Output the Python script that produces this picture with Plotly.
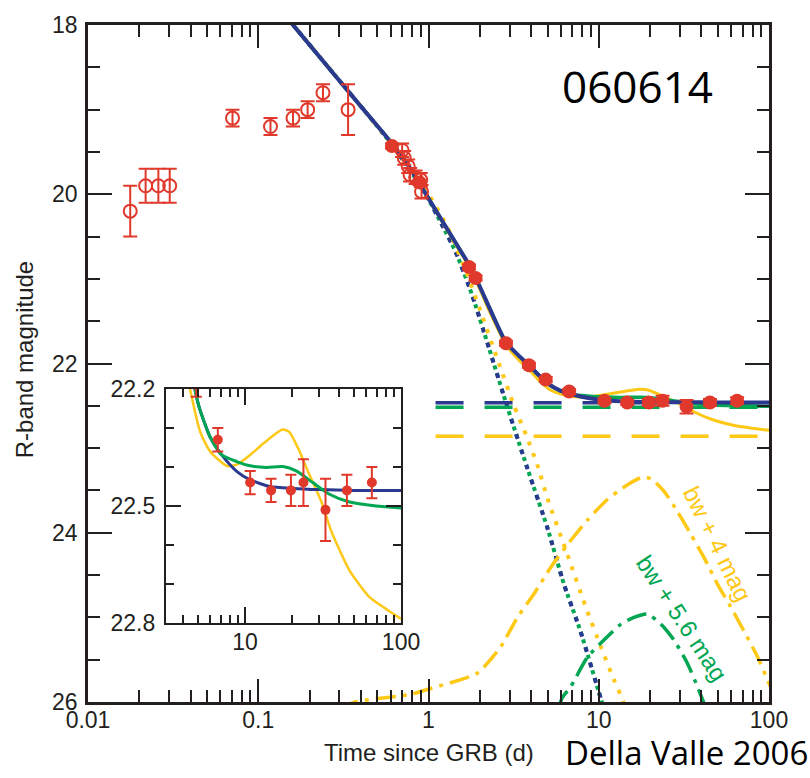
import plotly.graph_objects as go

# ---------------- data ----------------
# early optical points (open circles)
early_t = [0.0177, 0.0218, 0.0259, 0.0302, 0.0706, 0.118, 0.160, 0.195, 0.240, 0.337,
           0.70, 0.72, 0.76, 0.78, 0.84, 0.90, 0.91]
early_mag = [20.20, 19.90, 19.90, 19.90, 19.10, 19.20, 19.10, 19.00, 18.80, 19.00,
             19.48, 19.57, 19.67, 19.77, 19.80, 19.83, 19.97]
early_err = [0.30, 0.20, 0.20, 0.20, 0.10, 0.10, 0.10, 0.10, 0.10, 0.30,
             0.08, 0.08, 0.08, 0.08, 0.08, 0.08, 0.08]

# late points (filled circles)
late_t = [0.61, 0.885, 1.73, 1.89, 2.85, 3.89, 4.88, 6.7, 10.8, 14.7, 19.7, 23.7, 32.8, 45.0, 65.0]
late_mag = [19.43, 19.86, 20.86, 20.99, 21.76, 22.02, 22.19, 22.33, 22.44, 22.46, 22.46,
            22.44, 22.51, 22.46, 22.44]
late_err = [0.03, 0.03, 0.03, 0.03, 0.03, 0.03, 0.03, 0.03, 0.03, 0.03, 0.04, 0.06, 0.08, 0.04, 0.04]

# total model light curves
blue_t = [0.15, 0.16, 0.277, 0.40, 0.571, 0.75, 0.94, 1.2, 1.45, 1.69, 2.0, 2.3, 2.85, 3.4, 3.89,
          4.4, 5.05, 5.98, 7.1, 8.85, 10.8, 14.4, 20.3, 30.0, 50.0, 100.0]
blue_mag = [17.93, 18.00, 18.575, 18.96, 19.33, 19.64, 19.96, 20.31, 20.58, 20.80, 21.09, 21.36,
            21.75, 21.91, 22.02, 22.13, 22.242, 22.323, 22.369, 22.411, 22.433, 22.45, 22.455,
            22.458, 22.46, 22.46]

green_t = [0.15, 0.16, 0.277, 0.40, 0.571, 0.75, 0.94, 1.2, 1.45, 1.69, 2.0, 2.3, 2.85, 3.4, 3.89,
           4.4, 5.05, 5.98, 7.1, 8.85, 10.8, 13.7, 17.5, 21.3, 27.2, 34.8, 46.7, 69.0, 100.0]
green_mag = [17.93, 18.00, 18.575, 18.96, 19.33, 19.64, 19.96, 20.31, 20.58, 20.80, 21.09, 21.36,
             21.75, 21.91, 22.02, 22.13, 22.242, 22.323, 22.369, 22.386, 22.397, 22.401, 22.399,
             22.41, 22.44, 22.47, 22.49, 22.50, 22.505]

yellow_t = [0.15, 0.16, 0.277, 0.40, 0.571, 0.75, 0.94, 1.2, 1.45, 1.69, 2.0, 2.3, 2.85, 3.4, 3.89,
            4.47, 5.17, 5.98, 7.64, 8.85, 10.8, 13.1, 17.4, 19.2, 21.9, 25.9, 30.8, 35.7, 46.7,
            62.5, 76.0, 100.0]
yellow_mag = [17.93, 18.00, 18.575, 18.96, 19.33, 19.64, 19.96, 20.32, 20.60, 20.82, 21.12, 21.40,
              21.78, 21.96, 22.07, 22.204, 22.31, 22.36, 22.397, 22.394, 22.369, 22.34, 22.304,
              22.31, 22.352, 22.42, 22.488, 22.564, 22.665, 22.733, 22.758, 22.79]

# afterglow components
ag_t = [0.15, 0.277, 0.571, 0.80, 1.0, 1.2, 1.45, 1.81, 2.26, 2.91, 3.81, 4.99, 6.25, 7.83, 10.0, 10.5]
ag_mag = [17.93, 18.575, 19.34, 19.75, 20.06, 20.36, 20.69, 21.20, 21.81, 22.52, 23.24, 23.94,
          24.61, 25.17, 25.88, 26.02]

ag_yellow_t = [0.15, 0.277, 0.571, 1.0, 1.3, 1.69, 2.02, 2.54, 3.18, 3.72, 4.36, 4.99, 6.55, 8.4,
               10.3, 12.3, 13.8, 14.2]
ag_yellow_mag = [17.93, 18.575, 19.34, 20.00, 20.40, 20.95, 21.38, 21.95, 22.50, 22.83, 23.20,
                 23.59, 24.26, 24.88, 25.35, 25.74, 25.97, 26.05]

# host galaxy levels
host_t = [1.1, 100.0]
host_blue = [22.463, 22.463]
host_green = [22.518, 22.518]
host_yellow = [22.861, 22.861]

# supernova templates (bw + offset)
sn4_t = [0.30, 0.37, 0.78, 1.03, 1.93, 2.65, 3.33, 4.17, 5.22, 6.55, 8.58, 11.2, 14.7, 17.7, 20.2,
         24.2, 29.0, 34.8, 41.7, 49.9, 59.7, 71.6, 85.8, 100.0, 105.0]
sn4_mag = [26.08, 26.00, 25.91, 25.84, 25.66, 25.35, 25.00, 24.72, 24.41, 24.14, 23.85, 23.61,
           23.435, 23.35, 23.36, 23.51, 23.75, 24.02, 24.30, 24.61, 24.88, 25.17, 25.47, 25.78, 25.88]

sn56_t = [5.8, 6.1, 6.84, 8.58, 10.7, 13.5, 16.1, 19.3, 23.2, 27.7, 33.3, 38.0, 40.7, 42.0]
sn56_mag = [26.08, 25.95, 25.82, 25.47, 25.27, 25.08, 25.00, 24.96, 25.08, 25.27, 25.55, 25.82,
            25.97, 26.05]

x_ticks = [0.01, 0.1, 1, 10, 100]
x_labels = ["0.01", "0.1", "1", "10", "100"]
y_ticks = [18, 20, 22, 24, 26]
inset_x_ticks = [10, 100]
inset_y_ticks = [22.2, 22.5, 22.8]

# ---------------- styling ----------------
RED = "#e0392b"
BLUE = "#2b3990"
GREEN = "#00a651"
YELLOW = "#fdc816"
INK = "#231f20"
FONT = "Liberation Sans, Arial, sans-serif"

fig = go.Figure()


def line(x, y, color, width, dash="solid", xa="x", ya="y"):
    fig.add_trace(go.Scatter(x=x, y=y, mode="lines", xaxis=xa, yaxis=ya,
                             line=dict(color=color, width=width, dash=dash, shape="spline",
                                       smoothing=0.6),
                             hoverinfo="skip", showlegend=False))


# main panel: components
line(ag_t, ag_mag, GREEN, 4, "4px,4px")
line(ag_t, ag_mag, BLUE, 4, "5px,11px")
line(ag_yellow_t, ag_yellow_mag, YELLOW, 4, "4px,8px")
line(sn4_t, sn4_mag, YELLOW, 3.5, "20px,7px,4px,7px")
line(sn56_t, sn56_mag, GREEN, 3.5, "20px,7px,4px,7px")
line(host_t, host_yellow, YELLOW, 3.5, "28px,21px")
line(host_t, host_green, GREEN, 3.5, "28px,21px")
line(host_t, host_blue, BLUE, 3.5, "28px,21px")
# main panel: totals
line(yellow_t, yellow_mag, YELLOW, 3)
line(green_t, green_mag, GREEN, 3.5)
line(blue_t, blue_mag, BLUE, 4)

fig.add_trace(go.Scatter(
    x=early_t, y=early_mag, mode="markers",
    marker=dict(symbol="circle-open", size=13, color=RED, line=dict(width=2, color=RED)),
    error_y=dict(type="data", array=early_err, color=RED, thickness=2, width=7),
    hoverinfo="skip", showlegend=False))
fig.add_trace(go.Scatter(
    x=late_t, y=late_mag, mode="markers",
    marker=dict(symbol="circle", size=14, color=RED),
    error_y=dict(type="data", array=late_err, color=RED, thickness=2, width=7),
    hoverinfo="skip", showlegend=False))

# inset panel
line(yellow_t, yellow_mag, YELLOW, 2.5, xa="x2", ya="y2")
line(blue_t, blue_mag, BLUE, 3, xa="x2", ya="y2")
line(green_t, green_mag, GREEN, 3, xa="x2", ya="y2")
fig.add_trace(go.Scatter(
    x=late_t, y=late_mag, mode="markers", xaxis="x2", yaxis="y2",
    marker=dict(symbol="circle", size=10, color=RED),
    error_y=dict(type="data", array=late_err, color=RED, thickness=2, width=5.5),
    hoverinfo="skip", showlegend=False))


def minor_log(lo, hi):
    vals = []
    d = lo
    while d < hi:
        vals += [k * d for k in range(2, 10)]
        d *= 10
    return vals


axis_common = dict(showgrid=False, zeroline=False, showline=True, linecolor=INK,
                   mirror="ticks", ticks="inside", tickcolor=INK,
                   tickfont=dict(family=FONT, size=23, color=INK))

fig.update_layout(
    width=810, height=778,
    margin=dict(l=88, r=41, t=19.5, b=76),
    paper_bgcolor="white", plot_bgcolor="white",
    xaxis=dict(type="log", range=[-2, 2], tickmode="array", tickvals=x_ticks, ticktext=x_labels,
               ticklen=23, tickwidth=2, linewidth=2.5, ticklabelstandoff=-4,
               minor=dict(tickmode="array", tickvals=minor_log(0.01, 100), ticks="inside",
                          ticklen=12, tickwidth=2, tickcolor=INK),
               **axis_common),
    yaxis=dict(range=[26, 18], tickmode="array", tickvals=y_ticks,
               ticktext=[str(v) for v in y_ticks],
               ticklen=24, tickwidth=2, linewidth=2.5, ticklabelstandoff=3,
               minor=dict(tickmode="array", tickvals=[18 + 0.5 * k for k in range(17)],
                          ticks="inside", ticklen=12, tickwidth=2, tickcolor=INK),
               **axis_common),
    xaxis2=dict(type="log", range=[0.494, 2], domain=[0.1145, 0.4597], anchor="y2",
                tickmode="array", tickvals=inset_x_ticks,
                ticktext=[str(v) for v in inset_x_ticks],
                ticklen=16, tickwidth=2, linewidth=2.2, ticklabelstandoff=-3,
                minor=dict(tickmode="array", tickvals=minor_log(1, 100), ticks="inside",
                           ticklen=8, tickwidth=2, tickcolor=INK),
                **axis_common),
    yaxis2=dict(range=[22.8, 22.2], domain=[0.1168, 0.4623], anchor="x2",
                tickmode="array", tickvals=inset_y_ticks,
                ticktext=["%.1f" % v for v in inset_y_ticks],
                ticklen=15, tickwidth=2, linewidth=2.2, ticklabelstandoff=4,
                minor=dict(tickmode="array", tickvals=[22.3, 22.4, 22.6, 22.7],
                           ticks="inside", ticklen=8, tickwidth=2, tickcolor=INK),
                **axis_common),
)

annotations = [
    dict(text="R-band magnitude", x=-0.094, y=0.5062, textangle=-90,
         font=dict(family=FONT, size=24, color=INK)),
    dict(text="Time since GRB (d)", x=0.5007, y=-0.074,
         font=dict(family=FONT, size=24, color=INK)),
    dict(text="060614", x=0.807, y=0.9092,
         font=dict(family="Open Sans, sans-serif", size=44, color="black")),
    dict(text="Della Valle 2006", x=0.6975, y=-0.0745, xanchor="left",
         font=dict(family="Open Sans, sans-serif", size=33, color="black")),
    dict(text="bw + 4 mag", x=0.925, y=0.233, textangle=63.8,
         font=dict(family=FONT, size=24, color=YELLOW)),
    dict(text="bw + 5.6 mag", x=0.872, y=0.123, textangle=56.7,
         font=dict(family=FONT, size=24, color=GREEN)),
]
for a in annotations:
    a.setdefault("xanchor", "center")
    a.update(xref="paper", yref="paper", yanchor="middle", showarrow=False)
fig.update_layout(annotations=annotations)

fig.write_html("out.html")
